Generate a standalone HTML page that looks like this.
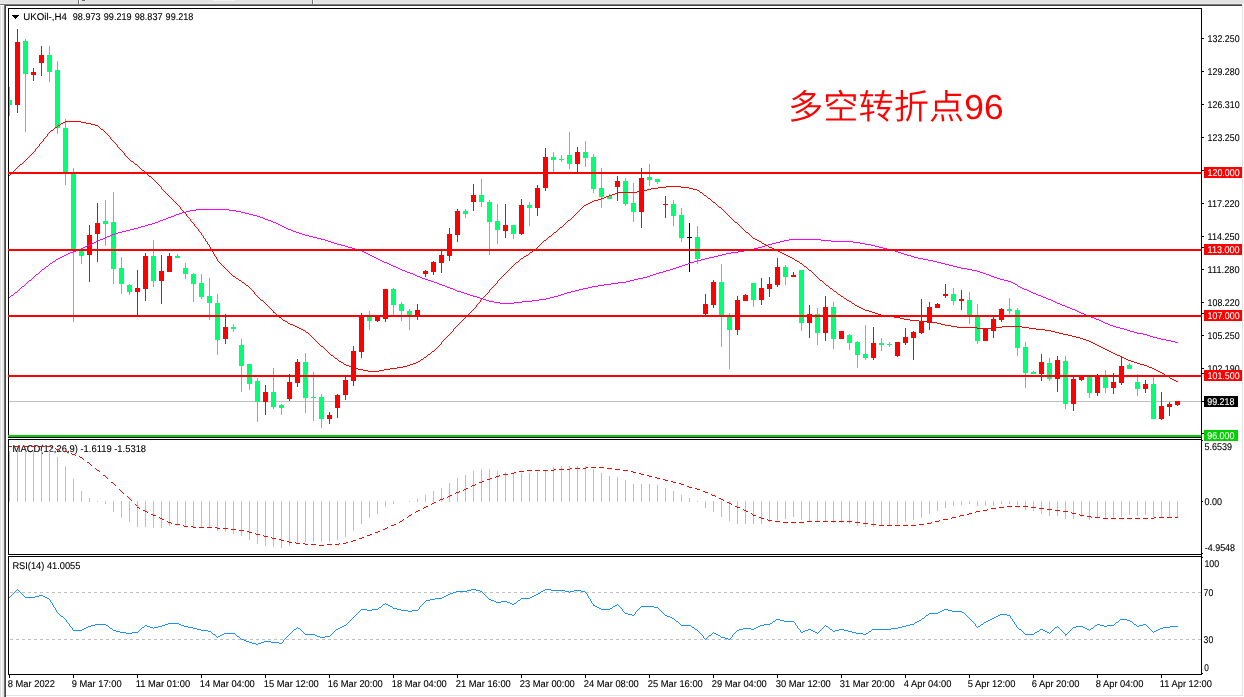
<!DOCTYPE html>
<html lang="zh"><head><meta charset="utf-8"><title>UKOil H4</title>
<style>html,body{margin:0;padding:0;background:#fff;}body{width:1244px;height:697px;overflow:hidden;position:relative;}svg{display:block;position:absolute;left:0;top:0;will-change:transform;}text{font-family:"Liberation Sans", "Noto Sans CJK SC", sans-serif;font-size:9.8px;text-rendering:geometricPrecision;fill:#000;white-space:pre;stroke:#000;stroke-width:0.1px;}.c{shape-rendering:crispEdges;}.note{font-size:34.6px;fill:#ff0000;font-weight:350;stroke:none;}</style></head><body>
<svg width="1244" height="697" viewBox="0 0 1244 697">
<g class="c">
<rect x="0" y="0" width="1244" height="697" fill="#fff"/>
<rect x="0" y="0" width="1244" height="4" fill="#e4e4e4"/>
<rect x="0" y="3" width="1244" height="1" fill="#ebebeb"/>
<rect x="0" y="4" width="1242" height="1" fill="#7a7a7a"/>
<rect x="4" y="5" width="1238" height="1" fill="#454545"/>
<rect x="0" y="6" width="1" height="691" fill="#dedede"/>
<rect x="2" y="6" width="2" height="691" fill="#e6e6e6"/>
<rect x="4" y="5" width="1" height="692" fill="#747474"/>
<rect x="5" y="5" width="1" height="692" fill="#454545"/>
<rect x="78" y="0" width="1" height="4" fill="#707070"/><rect x="79" y="0" width="1" height="4" fill="#ffffff"/>
<rect x="312" y="0" width="1" height="4" fill="#707070"/><rect x="313" y="0" width="1" height="4" fill="#ffffff"/>
<rect x="82" y="0" width="3" height="1" fill="#666"/>
<rect x="213" y="0" width="22" height="1" fill="#f2f2f2"/>
<rect x="1242" y="5" width="1" height="691" fill="#e2e2e2"/>
<rect x="6" y="695" width="1237" height="1" fill="#e2e2e2"/>
</g>
<defs><clipPath id="cm"><rect x="9" y="9" width="1192" height="428"/></clipPath><clipPath id="cd"><rect x="9" y="440" width="1192" height="114"/></clipPath><clipPath id="cr"><rect x="9" y="557" width="1192" height="117"/></clipPath></defs>
<g clip-path="url(#cm)">
<g class="c">
<rect x="9" y="401" width="1192" height="1" fill="#c0c0c0"/>
<rect x="9" y="87" width="1" height="29" fill="#00ff72"/>
<rect x="7" y="100" width="5" height="5" fill="#00ff72"/>
<rect x="17" y="29" width="1" height="84" fill="#ff0000"/>
<rect x="15" y="42" width="5" height="63" fill="#ff0000"/>
<rect x="25" y="39" width="1" height="93" fill="#00ff72"/>
<rect x="23" y="41" width="5" height="33" fill="#00ff72"/>
<rect x="33" y="68" width="1" height="13" fill="#ff0000"/>
<rect x="31" y="72" width="5" height="3" fill="#ff0000"/>
<rect x="41" y="46" width="1" height="30" fill="#ff0000"/>
<rect x="39" y="55" width="5" height="8" fill="#ff0000"/>
<rect x="49" y="46" width="1" height="36" fill="#00ff72"/>
<rect x="47" y="55" width="5" height="17" fill="#00ff72"/>
<rect x="57" y="61" width="1" height="73" fill="#00ff72"/>
<rect x="55" y="70" width="5" height="58" fill="#00ff72"/>
<rect x="65" y="119" width="1" height="66" fill="#00ff72"/>
<rect x="63" y="128" width="5" height="44" fill="#00ff72"/>
<rect x="73" y="168" width="1" height="154" fill="#00ff72"/>
<rect x="71" y="173" width="5" height="78" fill="#00ff72"/>
<rect x="81" y="250" width="1" height="14" fill="#00ff72"/>
<rect x="79" y="251" width="5" height="5" fill="#00ff72"/>
<rect x="89" y="225" width="1" height="57" fill="#ff0000"/>
<rect x="87" y="235" width="5" height="20" fill="#ff0000"/>
<rect x="97" y="203" width="1" height="59" fill="#ff0000"/>
<rect x="95" y="223" width="5" height="11" fill="#ff0000"/>
<rect x="105" y="200" width="1" height="46" fill="#00ff72"/>
<rect x="103" y="221" width="5" height="3" fill="#00ff72"/>
<rect x="113" y="192" width="1" height="92" fill="#00ff72"/>
<rect x="111" y="222" width="5" height="47" fill="#00ff72"/>
<rect x="121" y="257" width="1" height="37" fill="#00ff72"/>
<rect x="119" y="268" width="5" height="16" fill="#00ff72"/>
<rect x="129" y="284" width="1" height="11" fill="#00ff72"/>
<rect x="127" y="285" width="5" height="7" fill="#00ff72"/>
<rect x="137" y="270" width="1" height="46" fill="#ff0000"/>
<rect x="135" y="288" width="5" height="4" fill="#ff0000"/>
<rect x="145" y="253" width="1" height="48" fill="#ff0000"/>
<rect x="143" y="256" width="5" height="33" fill="#ff0000"/>
<rect x="153" y="240" width="1" height="47" fill="#00ff72"/>
<rect x="151" y="256" width="5" height="25" fill="#00ff72"/>
<rect x="161" y="255" width="1" height="49" fill="#ff0000"/>
<rect x="159" y="271" width="5" height="10" fill="#ff0000"/>
<rect x="169" y="253" width="1" height="19" fill="#ff0000"/>
<rect x="167" y="256" width="5" height="16" fill="#ff0000"/>
<rect x="177" y="254" width="1" height="4" fill="#00ff72"/>
<rect x="175" y="256" width="5" height="2" fill="#00ff72"/>
<rect x="185" y="263" width="1" height="16" fill="#00ff72"/>
<rect x="183" y="268" width="5" height="6" fill="#00ff72"/>
<rect x="193" y="273" width="1" height="29" fill="#00ff72"/>
<rect x="191" y="274" width="5" height="10" fill="#00ff72"/>
<rect x="201" y="274" width="1" height="25" fill="#00ff72"/>
<rect x="199" y="283" width="5" height="14" fill="#00ff72"/>
<rect x="209" y="278" width="1" height="42" fill="#00ff72"/>
<rect x="207" y="296" width="5" height="7" fill="#00ff72"/>
<rect x="217" y="294" width="1" height="61" fill="#00ff72"/>
<rect x="215" y="303" width="5" height="37" fill="#00ff72"/>
<rect x="225" y="314" width="1" height="30" fill="#ff0000"/>
<rect x="223" y="327" width="5" height="12" fill="#ff0000"/>
<rect x="233" y="324" width="1" height="8" fill="#00ff72"/>
<rect x="231" y="327" width="5" height="2" fill="#00ff72"/>
<rect x="241" y="339" width="1" height="53" fill="#00ff72"/>
<rect x="239" y="345" width="5" height="21" fill="#00ff72"/>
<rect x="249" y="364" width="1" height="26" fill="#00ff72"/>
<rect x="247" y="364" width="5" height="20" fill="#00ff72"/>
<rect x="257" y="378" width="1" height="44" fill="#00ff72"/>
<rect x="255" y="381" width="5" height="21" fill="#00ff72"/>
<rect x="265" y="385" width="1" height="30" fill="#ff0000"/>
<rect x="263" y="392" width="5" height="10" fill="#ff0000"/>
<rect x="273" y="368" width="1" height="41" fill="#00ff72"/>
<rect x="271" y="392" width="5" height="15" fill="#00ff72"/>
<rect x="281" y="404" width="1" height="11" fill="#00ff72"/>
<rect x="279" y="405" width="5" height="3" fill="#00ff72"/>
<rect x="289" y="374" width="1" height="27" fill="#ff0000"/>
<rect x="287" y="382" width="5" height="17" fill="#ff0000"/>
<rect x="297" y="359" width="1" height="28" fill="#ff0000"/>
<rect x="295" y="362" width="5" height="21" fill="#ff0000"/>
<rect x="305" y="353" width="1" height="60" fill="#00ff72"/>
<rect x="303" y="362" width="5" height="36" fill="#00ff72"/>
<rect x="313" y="372" width="1" height="49" fill="#00ff72"/>
<rect x="311" y="397" width="5" height="1" fill="#00ff72"/>
<rect x="321" y="394" width="1" height="34" fill="#00ff72"/>
<rect x="319" y="397" width="5" height="22" fill="#00ff72"/>
<rect x="329" y="412" width="1" height="12" fill="#ff0000"/>
<rect x="327" y="415" width="5" height="4" fill="#ff0000"/>
<rect x="337" y="394" width="1" height="24" fill="#ff0000"/>
<rect x="335" y="395" width="5" height="13" fill="#ff0000"/>
<rect x="345" y="376" width="1" height="24" fill="#ff0000"/>
<rect x="343" y="380" width="5" height="15" fill="#ff0000"/>
<rect x="353" y="346" width="1" height="40" fill="#ff0000"/>
<rect x="351" y="351" width="5" height="30" fill="#ff0000"/>
<rect x="361" y="313" width="1" height="45" fill="#ff0000"/>
<rect x="359" y="316" width="5" height="36" fill="#ff0000"/>
<rect x="369" y="311" width="1" height="19" fill="#00ff72"/>
<rect x="367" y="317" width="5" height="4" fill="#00ff72"/>
<rect x="377" y="316" width="1" height="6" fill="#ff0000"/>
<rect x="375" y="317" width="5" height="4" fill="#ff0000"/>
<rect x="385" y="289" width="1" height="33" fill="#ff0000"/>
<rect x="383" y="289" width="5" height="30" fill="#ff0000"/>
<rect x="393" y="288" width="1" height="27" fill="#00ff72"/>
<rect x="391" y="289" width="5" height="16" fill="#00ff72"/>
<rect x="401" y="302" width="1" height="19" fill="#00ff72"/>
<rect x="399" y="304" width="5" height="7" fill="#00ff72"/>
<rect x="409" y="309" width="1" height="21" fill="#00ff72"/>
<rect x="407" y="311" width="5" height="4" fill="#00ff72"/>
<rect x="417" y="304" width="1" height="16" fill="#ff0000"/>
<rect x="415" y="310" width="5" height="6" fill="#ff0000"/>
<rect x="425" y="270" width="1" height="7" fill="#ff0000"/>
<rect x="423" y="271" width="5" height="3" fill="#ff0000"/>
<rect x="433" y="261" width="1" height="14" fill="#ff0000"/>
<rect x="431" y="262" width="5" height="10" fill="#ff0000"/>
<rect x="441" y="250" width="1" height="23" fill="#ff0000"/>
<rect x="439" y="255" width="5" height="8" fill="#ff0000"/>
<rect x="449" y="228" width="1" height="33" fill="#ff0000"/>
<rect x="447" y="234" width="5" height="22" fill="#ff0000"/>
<rect x="457" y="209" width="1" height="33" fill="#ff0000"/>
<rect x="455" y="211" width="5" height="24" fill="#ff0000"/>
<rect x="465" y="209" width="1" height="9" fill="#00ff72"/>
<rect x="463" y="211" width="5" height="3" fill="#00ff72"/>
<rect x="473" y="184" width="1" height="27" fill="#ff0000"/>
<rect x="471" y="195" width="5" height="7" fill="#ff0000"/>
<rect x="481" y="179" width="1" height="28" fill="#00ff72"/>
<rect x="479" y="195" width="5" height="7" fill="#00ff72"/>
<rect x="489" y="200" width="1" height="55" fill="#00ff72"/>
<rect x="487" y="202" width="5" height="20" fill="#00ff72"/>
<rect x="497" y="204" width="1" height="40" fill="#00ff72"/>
<rect x="495" y="221" width="5" height="9" fill="#00ff72"/>
<rect x="505" y="204" width="1" height="34" fill="#ff0000"/>
<rect x="503" y="225" width="5" height="6" fill="#ff0000"/>
<rect x="513" y="225" width="1" height="14" fill="#00ff72"/>
<rect x="511" y="225" width="5" height="9" fill="#00ff72"/>
<rect x="521" y="199" width="1" height="36" fill="#ff0000"/>
<rect x="519" y="205" width="5" height="29" fill="#ff0000"/>
<rect x="529" y="202" width="1" height="24" fill="#00ff72"/>
<rect x="527" y="205" width="5" height="3" fill="#00ff72"/>
<rect x="537" y="185" width="1" height="31" fill="#ff0000"/>
<rect x="535" y="188" width="5" height="20" fill="#ff0000"/>
<rect x="545" y="148" width="1" height="43" fill="#ff0000"/>
<rect x="543" y="157" width="5" height="31" fill="#ff0000"/>
<rect x="553" y="152" width="1" height="20" fill="#00ff72"/>
<rect x="551" y="157" width="5" height="3" fill="#00ff72"/>
<rect x="561" y="155" width="1" height="7" fill="#00ff72"/>
<rect x="559" y="159" width="5" height="1" fill="#00ff72"/>
<rect x="569" y="132" width="1" height="37" fill="#00ff72"/>
<rect x="567" y="155" width="5" height="9" fill="#00ff72"/>
<rect x="577" y="147" width="1" height="25" fill="#ff0000"/>
<rect x="575" y="152" width="5" height="12" fill="#ff0000"/>
<rect x="585" y="141" width="1" height="26" fill="#00ff72"/>
<rect x="583" y="152" width="5" height="6" fill="#00ff72"/>
<rect x="593" y="154" width="1" height="39" fill="#00ff72"/>
<rect x="591" y="157" width="5" height="32" fill="#00ff72"/>
<rect x="601" y="168" width="1" height="40" fill="#00ff72"/>
<rect x="599" y="188" width="5" height="9" fill="#00ff72"/>
<rect x="609" y="194" width="1" height="5" fill="#00ff72"/>
<rect x="607" y="196" width="5" height="3" fill="#00ff72"/>
<rect x="617" y="176" width="1" height="25" fill="#ff0000"/>
<rect x="615" y="181" width="5" height="6" fill="#ff0000"/>
<rect x="625" y="178" width="1" height="28" fill="#00ff72"/>
<rect x="623" y="181" width="5" height="23" fill="#00ff72"/>
<rect x="633" y="183" width="1" height="39" fill="#00ff72"/>
<rect x="631" y="203" width="5" height="9" fill="#00ff72"/>
<rect x="641" y="168" width="1" height="60" fill="#ff0000"/>
<rect x="639" y="178" width="5" height="34" fill="#ff0000"/>
<rect x="649" y="164" width="1" height="22" fill="#00ff72"/>
<rect x="647" y="177" width="5" height="3" fill="#00ff72"/>
<rect x="657" y="179" width="1" height="5" fill="#00ff72"/>
<rect x="655" y="179" width="5" height="3" fill="#00ff72"/>
<rect x="665" y="196" width="1" height="22" fill="#ff0000"/>
<rect x="663" y="204" width="5" height="1" fill="#ff0000"/>
<rect x="673" y="200" width="1" height="26" fill="#00ff72"/>
<rect x="671" y="204" width="5" height="12" fill="#00ff72"/>
<rect x="681" y="208" width="1" height="34" fill="#00ff72"/>
<rect x="679" y="215" width="5" height="23" fill="#00ff72"/>
<rect x="689" y="223" width="1" height="49" fill="#000000"/>
<rect x="687" y="237" width="5" height="1" fill="#000000"/>
<rect x="697" y="226" width="1" height="38" fill="#00ff72"/>
<rect x="695" y="237" width="5" height="22" fill="#00ff72"/>
<rect x="705" y="294" width="1" height="21" fill="#ff0000"/>
<rect x="703" y="304" width="5" height="10" fill="#ff0000"/>
<rect x="713" y="280" width="1" height="28" fill="#ff0000"/>
<rect x="711" y="282" width="5" height="23" fill="#ff0000"/>
<rect x="721" y="264" width="1" height="83" fill="#00ff72"/>
<rect x="719" y="282" width="5" height="33" fill="#00ff72"/>
<rect x="729" y="313" width="1" height="56" fill="#00ff72"/>
<rect x="727" y="317" width="5" height="13" fill="#00ff72"/>
<rect x="737" y="296" width="1" height="39" fill="#ff0000"/>
<rect x="735" y="300" width="5" height="30" fill="#ff0000"/>
<rect x="745" y="294" width="1" height="7" fill="#ff0000"/>
<rect x="743" y="295" width="5" height="6" fill="#ff0000"/>
<rect x="753" y="283" width="1" height="24" fill="#00ff72"/>
<rect x="751" y="283" width="5" height="17" fill="#00ff72"/>
<rect x="761" y="278" width="1" height="27" fill="#ff0000"/>
<rect x="759" y="288" width="5" height="12" fill="#ff0000"/>
<rect x="769" y="277" width="1" height="20" fill="#ff0000"/>
<rect x="767" y="284" width="5" height="5" fill="#ff0000"/>
<rect x="777" y="258" width="1" height="29" fill="#ff0000"/>
<rect x="775" y="267" width="5" height="18" fill="#ff0000"/>
<rect x="785" y="265" width="1" height="20" fill="#00ff72"/>
<rect x="783" y="267" width="5" height="10" fill="#00ff72"/>
<rect x="793" y="272" width="1" height="5" fill="#ff0000"/>
<rect x="791" y="275" width="5" height="2" fill="#ff0000"/>
<rect x="801" y="270" width="1" height="61" fill="#00ff72"/>
<rect x="799" y="270" width="5" height="53" fill="#00ff72"/>
<rect x="809" y="305" width="1" height="33" fill="#ff0000"/>
<rect x="807" y="314" width="5" height="9" fill="#ff0000"/>
<rect x="817" y="308" width="1" height="37" fill="#00ff72"/>
<rect x="815" y="314" width="5" height="19" fill="#00ff72"/>
<rect x="825" y="296" width="1" height="45" fill="#ff0000"/>
<rect x="823" y="307" width="5" height="26" fill="#ff0000"/>
<rect x="833" y="302" width="1" height="47" fill="#00ff72"/>
<rect x="831" y="307" width="5" height="32" fill="#00ff72"/>
<rect x="841" y="331" width="1" height="8" fill="#ff0000"/>
<rect x="839" y="331" width="5" height="8" fill="#ff0000"/>
<rect x="849" y="334" width="1" height="16" fill="#00ff72"/>
<rect x="847" y="335" width="5" height="8" fill="#00ff72"/>
<rect x="857" y="341" width="1" height="27" fill="#00ff72"/>
<rect x="855" y="342" width="5" height="13" fill="#00ff72"/>
<rect x="865" y="325" width="1" height="35" fill="#00ff72"/>
<rect x="863" y="354" width="5" height="4" fill="#00ff72"/>
<rect x="873" y="327" width="1" height="33" fill="#ff0000"/>
<rect x="871" y="343" width="5" height="15" fill="#ff0000"/>
<rect x="881" y="338" width="1" height="13" fill="#00ff72"/>
<rect x="879" y="343" width="5" height="2" fill="#00ff72"/>
<rect x="889" y="342" width="1" height="5" fill="#00ff72"/>
<rect x="887" y="344" width="5" height="1" fill="#00ff72"/>
<rect x="897" y="342" width="1" height="15" fill="#ff0000"/>
<rect x="895" y="342" width="5" height="14" fill="#ff0000"/>
<rect x="905" y="328" width="1" height="17" fill="#ff0000"/>
<rect x="903" y="337" width="5" height="6" fill="#ff0000"/>
<rect x="913" y="331" width="1" height="29" fill="#ff0000"/>
<rect x="911" y="332" width="5" height="6" fill="#ff0000"/>
<rect x="921" y="299" width="1" height="35" fill="#ff0000"/>
<rect x="919" y="322" width="5" height="11" fill="#ff0000"/>
<rect x="929" y="302" width="1" height="28" fill="#ff0000"/>
<rect x="927" y="307" width="5" height="15" fill="#ff0000"/>
<rect x="937" y="303" width="1" height="5" fill="#ff0000"/>
<rect x="935" y="304" width="5" height="4" fill="#ff0000"/>
<rect x="945" y="284" width="1" height="14" fill="#ff0000"/>
<rect x="943" y="294" width="5" height="2" fill="#ff0000"/>
<rect x="953" y="288" width="1" height="17" fill="#00ff72"/>
<rect x="951" y="294" width="5" height="7" fill="#00ff72"/>
<rect x="961" y="290" width="1" height="20" fill="#ff0000"/>
<rect x="959" y="299" width="5" height="2" fill="#ff0000"/>
<rect x="969" y="292" width="1" height="32" fill="#00ff72"/>
<rect x="967" y="300" width="5" height="15" fill="#00ff72"/>
<rect x="977" y="304" width="1" height="40" fill="#00ff72"/>
<rect x="975" y="317" width="5" height="24" fill="#00ff72"/>
<rect x="985" y="329" width="1" height="12" fill="#ff0000"/>
<rect x="983" y="329" width="5" height="12" fill="#ff0000"/>
<rect x="993" y="316" width="1" height="22" fill="#ff0000"/>
<rect x="991" y="319" width="5" height="12" fill="#ff0000"/>
<rect x="1001" y="308" width="1" height="14" fill="#ff0000"/>
<rect x="999" y="309" width="5" height="11" fill="#ff0000"/>
<rect x="1009" y="298" width="1" height="16" fill="#00ff72"/>
<rect x="1007" y="309" width="5" height="2" fill="#00ff72"/>
<rect x="1017" y="308" width="1" height="48" fill="#00ff72"/>
<rect x="1015" y="310" width="5" height="38" fill="#00ff72"/>
<rect x="1025" y="342" width="1" height="46" fill="#00ff72"/>
<rect x="1023" y="347" width="5" height="26" fill="#00ff72"/>
<rect x="1033" y="371" width="1" height="3" fill="#00ff72"/>
<rect x="1031" y="372" width="5" height="2" fill="#00ff72"/>
<rect x="1041" y="354" width="1" height="27" fill="#ff0000"/>
<rect x="1039" y="362" width="5" height="12" fill="#ff0000"/>
<rect x="1049" y="358" width="1" height="23" fill="#00ff72"/>
<rect x="1047" y="363" width="5" height="16" fill="#00ff72"/>
<rect x="1057" y="356" width="1" height="36" fill="#ff0000"/>
<rect x="1055" y="360" width="5" height="19" fill="#ff0000"/>
<rect x="1065" y="356" width="1" height="53" fill="#00ff72"/>
<rect x="1063" y="361" width="5" height="43" fill="#00ff72"/>
<rect x="1073" y="377" width="1" height="34" fill="#ff0000"/>
<rect x="1071" y="379" width="5" height="25" fill="#ff0000"/>
<rect x="1081" y="376" width="1" height="5" fill="#ff0000"/>
<rect x="1079" y="377" width="5" height="3" fill="#ff0000"/>
<rect x="1089" y="377" width="1" height="21" fill="#00ff72"/>
<rect x="1087" y="377" width="5" height="16" fill="#00ff72"/>
<rect x="1097" y="374" width="1" height="22" fill="#ff0000"/>
<rect x="1095" y="376" width="5" height="17" fill="#ff0000"/>
<rect x="1105" y="370" width="1" height="23" fill="#00ff72"/>
<rect x="1103" y="377" width="5" height="11" fill="#00ff72"/>
<rect x="1113" y="373" width="1" height="21" fill="#ff0000"/>
<rect x="1111" y="382" width="5" height="6" fill="#ff0000"/>
<rect x="1121" y="356" width="1" height="29" fill="#ff0000"/>
<rect x="1119" y="366" width="5" height="17" fill="#ff0000"/>
<rect x="1129" y="363" width="1" height="6" fill="#00ff72"/>
<rect x="1127" y="365" width="5" height="4" fill="#00ff72"/>
<rect x="1137" y="374" width="1" height="22" fill="#00ff72"/>
<rect x="1135" y="382" width="5" height="7" fill="#00ff72"/>
<rect x="1145" y="380" width="1" height="13" fill="#ff0000"/>
<rect x="1143" y="384" width="5" height="5" fill="#ff0000"/>
<rect x="1153" y="377" width="1" height="42" fill="#00ff72"/>
<rect x="1151" y="384" width="5" height="35" fill="#00ff72"/>
<rect x="1161" y="392" width="1" height="28" fill="#ff0000"/>
<rect x="1159" y="406" width="5" height="13" fill="#ff0000"/>
<rect x="1169" y="402" width="1" height="14" fill="#ff0000"/>
<rect x="1167" y="404" width="5" height="3" fill="#ff0000"/>
<rect x="1177" y="401" width="1" height="5" fill="#ff0000"/>
<rect x="1175" y="401" width="5" height="4" fill="#ff0000"/>
</g>
<path class="c" d="M486 300.5h3M532 300.5h7M1051 300.5h2M398 268.5h2M673 268.5h3M961 268.5h6M464 293.5h3M564 293.5h3M1033 293.5h3M96 241.5h2M328 241.5h3M780 241.5h4M831 241.5h22M453 289.5h2M579 289.5h4M1024 289.5h3M145 225.5h3M280 225.5h2M196 209.5h33M477 297.5h3M550 297.5h4M1043 297.5h3M115 233.5h3M299 233.5h3M158 221.5h2M271 221.5h2M425 279.5h3M634 279.5h4M1000 279.5h4M467 294.5h3M561 294.5h3M1036 294.5h2M100 239.5h3M321 239.5h4M789 239.5h32M98 240.5h2M325 240.5h3M784 240.5h5M821 240.5h10M190 210.5h6M229 210.5h7M94 242.5h2M331 242.5h3M776 242.5h4M853 242.5h7M85 246.5h2M345 246.5h3M762 246.5h3M875 246.5h4M384 262.5h3M690 262.5h4M937 262.5h4M70 252.5h3M364 252.5h2M731 252.5h7M898 252.5h3M168 217.5h3M260 217.5h3M22 286.5h2M445 286.5h2M592 286.5h6M1018 286.5h2M437 283.5h2M611 283.5h7M1013 283.5h2M73 251.5h3M362 251.5h2M738 251.5h6M895 251.5h3M417 276.5h3M647 276.5h3M991 276.5h3M122 231.5h4M293 231.5h3M182 212.5h4M241 212.5h4M480 298.5h3M546 298.5h4M1046 298.5h2M494 302.5h6M514 302.5h8M1055 302.5h2M68 253.5h2M366 253.5h2M726 253.5h5M901 253.5h3M56 259.5h2M378 259.5h2M701 259.5h4M923 259.5h5M489 301.5h5M522 301.5h10M1053 301.5h2M105 237.5h2M313 237.5h4M11 295.5h2M470 295.5h3M558 295.5h3M1038 295.5h3M29 280.5h2M428 280.5h3M630 280.5h4M1004 280.5h4M36 274.5h2M413 274.5h2M653 274.5h3M986 274.5h3M447 287.5h3M588 287.5h4M1020 287.5h2M1120 328.5h4M179 213.5h3M245 213.5h4M64 255.5h2M370 255.5h2M718 255.5h4M907 255.5h4M483 299.5h3M539 299.5h7M1048 299.5h3M76 250.5h2M359 250.5h3M744 250.5h6M891 250.5h4M1070 308.5h2M15 292.5h2M461 292.5h3M567 292.5h4M1031 292.5h2M1137 333.5h6M391 265.5h2M682 265.5h3M949 265.5h4M431 281.5h3M626 281.5h4M1008 281.5h3M1161 339.5h5M402 270.5h3M666 270.5h4M972 270.5h5M60 257.5h2M374 257.5h2M709 257.5h5M914 257.5h4M130 229.5h4M288 229.5h3M420 277.5h2M643 277.5h4M994 277.5h3M1143 334.5h4M92 243.5h2M334 243.5h3M772 243.5h4M860 243.5h5M81 248.5h2M352 248.5h3M754 248.5h4M883 248.5h4M455 290.5h2M575 290.5h4M1027 290.5h2M155 222.5h3M273 222.5h3M1065 306.5h2M410 273.5h3M656 273.5h3M983 273.5h3M473 296.5h4M554 296.5h4M1041 296.5h2M1116 327.5h4M62 256.5h2M372 256.5h2M714 256.5h4M911 256.5h3M83 247.5h2M348 247.5h4M758 247.5h4M879 247.5h4M500 303.5h14M1057 303.5h3M1157 338.5h4M103 238.5h2M317 238.5h4M90 244.5h2M337 244.5h4M768 244.5h4M865 244.5h6M389 264.5h2M685 264.5h3M945 264.5h4M163 219.5h3M265 219.5h3M1084 314.5h2M1147 335.5h3M66 254.5h2M368 254.5h2M722 254.5h4M904 254.5h3M1077 311.5h2M1166 340.5h5M434 282.5h3M618 282.5h8M1011 282.5h2M46 266.5h2M393 266.5h3M679 266.5h3M953 266.5h4M1127 330.5h3M422 278.5h3M638 278.5h5M997 278.5h3M126 230.5h4M291 230.5h2M118 232.5h4M296 232.5h3M396 267.5h2M676 267.5h3M957 267.5h4M1079 312.5h2M42 269.5h2M400 269.5h2M670 269.5h3M967 269.5h5M1130 331.5h4M174 215.5h2M253 215.5h4M1171 341.5h4M415 275.5h2M650 275.5h3M989 275.5h2M1081 313.5h3M1072 309.5h3M380 260.5h2M697 260.5h4M928 260.5h5M439 284.5h3M604 284.5h7M1015 284.5h2M1124 329.5h3M110 235.5h2M305 235.5h4M53 261.5h2M382 261.5h2M694 261.5h3M933 261.5h4M78 249.5h3M355 249.5h4M750 249.5h4M887 249.5h4M186 211.5h4M236 211.5h5M405 271.5h2M663 271.5h3M977 271.5h3M1067 307.5h3M1099 320.5h2M141 226.5h4M282 226.5h2M1153 337.5h4M176 214.5h3M249 214.5h4M1091 317.5h3M457 291.5h4M571 291.5h4M1029 291.5h2M134 228.5h4M286 228.5h2M112 234.5h3M302 234.5h3M450 288.5h3M583 288.5h5M1022 288.5h2M1094 318.5h2M58 258.5h2M376 258.5h2M705 258.5h4M918 258.5h5M87 245.5h3M341 245.5h4M765 245.5h3M871 245.5h4M1110 325.5h3M148 224.5h4M278 224.5h2M1086 315.5h3M442 285.5h3M598 285.5h6M1103 322.5h2M1150 336.5h3M1113 326.5h3M1105 323.5h3M1096 319.5h3M171 216.5h3M257 216.5h3M1101 321.5h2M1134 332.5h3M1175 342.5h3M107 236.5h3M309 236.5h4M407 272.5h3M659 272.5h4M980 272.5h3M138 227.5h3M284 227.5h2M50 263.5h2M387 263.5h2M688 263.5h2M941 263.5h4M160 220.5h3M268 220.5h3M166 218.5h2M263 218.5h2M1062 305.5h3M152 223.5h3M276 223.5h2M1060 304.5h2M1075 310.5h2M1089 316.5h2M1108 324.5h2M44.5 268v1M14.5 293v1M19.5 289v1M9.5 297v1M31.5 279v1M13.5 294v1M52.5 262v1M26.5 283v1M34.5 276v1M21.5 287v1M48.5 265v1M28.5 281v1M41.5 270v1M33.5 277v1M18.5 290v1M38.5 273v1M10.5 296v1M49.5 264v1M27.5 282v1M32.5 278v1M45.5 267v1M35.5 275v1M55.5 260v1M25.5 284v1M40.5 271v1M17.5 291v1M20.5 288v1M24.5 285v1M1017.5 285v1M39.5 272v1" fill="none" stroke="#ff00ff" stroke-width="1"/>
<path class="c" d="M306 332.5h2M1055 332.5h4M852 303.5h2M339 361.5h2M418 361.5h2M1131 361.5h3M299 328.5h2M977 328.5h18M1029 328.5h7M236 278.5h2M335 358.5h2M1124 358.5h2M358 369.5h5M384 369.5h6M1154 369.5h2M288 323.5h2M937 323.5h4M297 327.5h2M957 327.5h20M995 327.5h7M1022 327.5h7M55 127.5h2M279 317.5h2M894 317.5h6M875 313.5h3M65 121.5h16M834 291.5h2M762 243.5h2M1174 380.5h2M658 187.5h8M681 187.5h8M1167 376.5h2M363 370.5h5M379 370.5h5M1156 370.5h2M1063 334.5h5M290 324.5h3M941 324.5h4M295 326.5h2M951 326.5h6M1002 326.5h20M755 239.5h2M590 202.5h2M713 202.5h2M530 252.5h2M780 252.5h2M233 276.5h2M516 262.5h2M283 320.5h2M910 320.5h9M719 207.5h2M1103 348.5h2M759 241.5h2M863 309.5h2M368 371.5h11M1158 371.5h2M1162 373.5h2M301 329.5h2M1036 329.5h9M784 254.5h2M293 325.5h2M945 325.5h6M285 321.5h2M919 321.5h8M58 125.5h2M95 125.5h3M246 285.5h2M826 285.5h2M1072 336.5h4M560 227.5h2M1170 378.5h2M618 192.5h19M700 192.5h2M778 251.5h2M594 200.5h4M927 322.5h10M413 363.5h3M1137 363.5h3M1107 350.5h2M666 186.5h15M804 266.5h2M601 198.5h3M708 198.5h2M331 355.5h2M1117 355.5h3M1165 375.5h2M354 368.5h4M390 368.5h7M1152 368.5h2M344 364.5h2M410 364.5h3M1140 364.5h4M606 196.5h3M1068 335.5h4M588 203.5h2M881 315.5h7M790 257.5h2M346 365.5h3M407 365.5h3M1144 365.5h3M303 330.5h2M1045 330.5h6M766 245.5h2M586 204.5h2M800 263.5h2M1076 337.5h4M865 310.5h4M349 366.5h2M403 366.5h4M1147 366.5h2M1086 340.5h3M838 294.5h2M612 194.5h3M524 256.5h2M788 256.5h2M261 300.5h2M847 300.5h2M1080 338.5h3M772 248.5h2M878 314.5h3M1093 343.5h2M1051 331.5h4M809 270.5h2M1095 344.5h2M841 296.5h2M1097 345.5h2M63 122.5h2M81 122.5h5M643 190.5h4M697 190.5h2M598 199.5h3M242 282.5h2M51 130.5h2M351 367.5h3M397 367.5h6M1149 367.5h3M549 236.5h2M637 191.5h6M855 305.5h2M20 164.5h2M135 164.5h2M888 316.5h6M428 354.5h2M1115 354.5h2M795 260.5h2M149 176.5h2M609 195.5h3M704 195.5h2M859 307.5h2M797 261.5h2M651 188.5h7M689 188.5h4M900 318.5h4M1120 356.5h2M1091 342.5h2M61 123.5h2M86 123.5h5M1113 353.5h2M782 253.5h2M534 249.5h2M774 249.5h2M1083 339.5h3M101 129.5h2M735 222.5h2M424 357.5h2M1122 357.5h2M341 362.5h2M416 362.5h2M1134 362.5h3M91 124.5h4M604 197.5h2M432 351.5h2M1109 351.5h2M1101 347.5h2M421 359.5h2M1126 359.5h2M769 247.5h3M904 319.5h6M554 232.5h2M746 232.5h2M131 161.5h2M830 288.5h2M568 220.5h2M526 255.5h2M786 255.5h2M1105 349.5h2M1128 360.5h3M584 205.5h2M592 201.5h2M869 311.5h3M615 193.5h3M1059 333.5h4M776 250.5h2M647 189.5h4M693 189.5h4M273 312.5h2M872 312.5h3M1172 379.5h2M544 240.5h2M757 240.5h2M1176 381.5h2M1089 341.5h2M753 238.5h2M1111 352.5h2M844 298.5h2M239 280.5h2M820 280.5h2M1160 372.5h2M321 346.5h2M1099 346.5h2M857 306.5h2M764 244.5h2M861 308.5h2M521 258.5h2M792 258.5h2M142 170.5h2M849 301.5h2M451.5 332v1M155.5 181v1M265.5 303v1M478.5 303v1M454.5 328v1M500.5 278v1M818.5 278v1M195.5 226v1M562.5 226v1M740.5 226v1M25.5 160v1M130.5 160v1M423.5 358v1M459.5 323v1M455.5 327v1M201.5 233v2M552.5 234v1M749.5 234v1M99.5 127v1M465.5 317v1M275.5 313v1M469.5 313v1M209.5 245v2M538.5 246v1M768.5 246v1M253.5 291v1M489.5 290v2M22.5 163v1M134.5 163v1M207.5 242v2M541.5 243v1M161.5 187v2M309.5 334v1M449.5 334v1M458.5 324v1M260.5 299v1M481.5 299v1M846.5 299v1M456.5 326v1M205.5 239v2M546.5 239v1M175.5 202v1M213.5 252v2M502.5 276v1M816.5 276v1M219.5 262v1M799.5 262v1M462.5 320v1M180.5 207v2M582.5 207v1M324.5 348v1M436.5 348v1M206.5 241v1M543.5 241v1M271.5 309v1M473.5 309v1M453.5 329v2M214.5 254v2M528.5 254v1M457.5 325v1M461.5 321v1M494.5 285v1M217.5 259v2M520.5 259v1M794.5 259v1M311.5 336v1M447.5 336v1M196.5 227v1M741.5 227v1M188.5 217v1M572.5 217v1M730.5 217v1M165.5 192v1M212.5 251v1M532.5 251v1M173.5 200v1M711.5 200v1M287.5 322v1M460.5 322v1M343.5 363v1M27.5 158v1M128.5 158v1M34.5 151v1M122.5 151v1M37.5 147v1M118.5 147v1M17.5 167v1M139.5 167v1M326.5 350v1M434.5 350v1M160.5 186v1M197.5 228v1M559.5 228v1M742.5 228v1M223.5 266v1M512.5 266v1M171.5 198v1M26.5 159v1M129.5 159v1M427.5 355v1M231.5 274v1M504.5 274v1M814.5 274v1M190.5 219v2M570.5 219v1M732.5 219v1M194.5 224v2M564.5 224v1M738.5 224v1M169.5 196v1M706.5 196v1M310.5 335v1M448.5 335v1M563.5 225v1M739.5 225v1M176.5 203v1M715.5 203v1M277.5 315v1M467.5 315v1M216.5 257v2M523.5 257v1M198.5 229v2M557.5 230v1M744.5 230v1M45.5 137v1M110.5 137v2M35.5 149v2M120.5 149v1M182.5 210v1M579.5 210v1M723.5 210v1M539.5 245v1M252.5 290v1M833.5 290v1M177.5 204v1M716.5 204v1M220.5 263v1M515.5 263v1M312.5 337v1M446.5 337v1M121.5 150v1M272.5 310v1M472.5 310v1M315.5 340v1M443.5 340v1M255.5 294v1M486.5 294v1M167.5 194v1M703.5 194v1M215.5 256v1M40.5 143v1M115.5 143v1M480.5 300v2M313.5 338v1M445.5 338v1M210.5 247v2M536.5 248v1M276.5 314v1M468.5 314v1M318.5 343v1M441.5 342v2M305.5 331v1M452.5 331v1M187.5 216v1M573.5 216v1M729.5 216v1M10.5 174v1M147.5 174v1M227.5 270v1M508.5 270v1M319.5 344v1M440.5 344v1M224.5 267v1M511.5 267v1M806.5 267v1M184.5 212v1M577.5 212v1M725.5 212v1M257.5 296v1M484.5 296v1M241.5 281v1M497.5 281v2M822.5 281v1M320.5 345v1M439.5 345v1M42.5 141v1M113.5 141v1M48.5 133v1M106.5 133v1M235.5 277v1M501.5 277v1M817.5 277v1M163.5 190v1M172.5 199v1M710.5 199v1M823.5 282v1M29.5 156v1M126.5 156v1M103.5 130v1M203.5 236v2M751.5 236v1M164.5 191v1M699.5 191v1M267.5 305v1M476.5 305v2M244.5 283v1M496.5 283v1M824.5 283v1M238.5 279v1M499.5 279v1M819.5 279v1M229.5 272v1M506.5 272v1M812.5 272v1M18.5 166v1M138.5 166v1M186.5 214v2M574.5 215v1M728.5 215v1M13.5 171v1M144.5 171v1M278.5 316v1M466.5 316v1M330.5 354v1M519.5 260v1M168.5 195v1M269.5 307v1M475.5 307v1M43.5 139v2M112.5 140v1M218.5 261v1M518.5 261v1M179.5 206v1M583.5 206v1M718.5 206v1M281.5 318v1M464.5 318v1M333.5 356v1M426.5 356v1M156.5 182v1M317.5 342v1M254.5 292v2M488.5 292v1M836.5 292v1M228.5 271v1M507.5 271v1M811.5 271v1M157.5 183v1M329.5 353v1M430.5 353v1M529.5 253v1M211.5 249v2M314.5 339v1M444.5 339v1M53.5 129v1M192.5 222v1M566.5 222v1M334.5 357v1M553.5 233v1M748.5 233v1M50.5 131v1M104.5 131v1M60.5 124v1M193.5 223v1M565.5 223v1M737.5 223v1M170.5 197v1M707.5 197v1M327.5 351v1M49.5 132v1M105.5 132v1M323.5 347v1M437.5 347v1M337.5 359v1M537.5 247v1M226.5 269v1M509.5 269v1M808.5 269v1M282.5 319v1M463.5 319v1M575.5 214v1M727.5 214v1M200.5 232v1M24.5 161v1M47.5 134v2M108.5 135v1M250.5 288v1M491.5 288v1M733.5 220v1M225.5 268v1M510.5 268v1M807.5 268v1M325.5 349v1M435.5 349v1M338.5 360v1M420.5 360v1M178.5 205v1M717.5 205v1M39.5 144v2M117.5 145v2M174.5 201v1M712.5 201v1M12.5 172v1M145.5 172v1M273.5 311v1M471.5 311v1M166.5 193v1M702.5 193v1M308.5 333v1M450.5 333v1M36.5 148v1M119.5 148v1M533.5 250v1M258.5 297v1M483.5 297v1M843.5 297v1M222.5 265v1M513.5 265v1M803.5 265v1M232.5 275v1M503.5 275v1M815.5 275v1M162.5 189v1M33.5 152v1M123.5 152v1M470.5 312v1M249.5 287v1M492.5 287v1M829.5 287v1M264.5 302v1M479.5 302v1M851.5 302v1M31.5 154v1M124.5 153v2M558.5 229v1M743.5 229v1M266.5 304v1M477.5 304v1M854.5 304v1M248.5 286v1M493.5 286v1M828.5 286v1M189.5 218v1M571.5 218v1M731.5 218v1M54.5 128v1M100.5 128v1M107.5 134v1M15.5 169v1M141.5 169v1M581.5 208v1M721.5 208v1M116.5 144v1M245.5 284v1M495.5 284v1M825.5 284v1M316.5 341v1M442.5 341v1M16.5 168v1M140.5 168v1M151.5 177v1M204.5 238v1M547.5 238v1M152.5 178v1M487.5 293v1M837.5 293v1M41.5 142v1M114.5 142v1M328.5 352v1M431.5 352v1M199.5 231v1M556.5 231v1M745.5 231v1M259.5 298v1M482.5 298v1M498.5 280v1M221.5 264v1M514.5 264v1M802.5 264v1M548.5 237v1M752.5 237v1M181.5 209v1M580.5 209v1M722.5 209v1M202.5 235v1M551.5 235v1M750.5 235v1M19.5 165v1M137.5 165v1M185.5 213v1M576.5 213v1M726.5 213v1M1164.5 374v1M251.5 289v1M490.5 289v1M832.5 289v1M438.5 346v1M158.5 184v1M230.5 273v1M505.5 273v1M813.5 273v1M268.5 306v1M30.5 155v1M125.5 155v1M208.5 244v1M540.5 244v1M270.5 308v1M474.5 308v1M191.5 221v1M567.5 221v1M734.5 221v1M14.5 170v1M38.5 146v1M256.5 295v1M485.5 295v1M840.5 295v1M11.5 173v1M146.5 173v1M263.5 301v1M44.5 138v1M183.5 211v1M578.5 211v1M724.5 211v1M32.5 153v1M28.5 157v1M127.5 157v1M153.5 179v1M1169.5 377v1M9.5 175v1M148.5 175v1M46.5 136v1M109.5 136v1M57.5 126v1M98.5 126v1M542.5 242v1M761.5 242v1M23.5 162v1M133.5 162v1M159.5 185v1M111.5 139v1M154.5 180v1" fill="none" stroke="#ff0000" stroke-width="1"/>
</g>
<g class="c">
<rect x="8" y="8" width="1" height="430" fill="#000"/>
<rect x="8" y="172" width="1193" height="2" fill="#ff0000"/>
<rect x="8" y="249" width="1193" height="2" fill="#ff0000"/>
<rect x="8" y="315" width="1193" height="2" fill="#ff0000"/>
<rect x="8" y="375" width="1193" height="2" fill="#ff0000"/>
<rect x="8" y="435" width="1193" height="2" fill="#00d000"/>
</g>
<text class="note" x="788" y="119" textLength="215.5" lengthAdjust="spacingAndGlyphs">多空转折点96</text>
<text x="12.6" y="452" textLength="133.5" lengthAdjust="spacingAndGlyphs">MACD(12,26,9) -1.6119 -1.5318</text>
<g clip-path="url(#cd)">
<g class="c">
<rect x="9" y="451" width="1" height="51" fill="#c0c0c0"/>
<rect x="17" y="451" width="1" height="51" fill="#c0c0c0"/>
<rect x="25" y="451" width="1" height="51" fill="#c0c0c0"/>
<rect x="33" y="451" width="1" height="51" fill="#c0c0c0"/>
<rect x="41" y="451" width="1" height="51" fill="#c0c0c0"/>
<rect x="49" y="451" width="1" height="51" fill="#c0c0c0"/>
<rect x="57" y="457" width="1" height="45" fill="#c0c0c0"/>
<rect x="65" y="466" width="1" height="36" fill="#c0c0c0"/>
<rect x="73" y="479" width="1" height="23" fill="#c0c0c0"/>
<rect x="81" y="491" width="1" height="11" fill="#c0c0c0"/>
<rect x="89" y="498" width="1" height="4" fill="#c0c0c0"/>
<rect x="97" y="501" width="1" height="1" fill="#c0c0c0"/>
<rect x="105" y="501" width="1" height="3" fill="#c0c0c0"/>
<rect x="113" y="501" width="1" height="11" fill="#c0c0c0"/>
<rect x="121" y="501" width="1" height="17" fill="#c0c0c0"/>
<rect x="129" y="501" width="1" height="21" fill="#c0c0c0"/>
<rect x="137" y="501" width="1" height="26" fill="#c0c0c0"/>
<rect x="145" y="501" width="1" height="26" fill="#c0c0c0"/>
<rect x="153" y="501" width="1" height="27" fill="#c0c0c0"/>
<rect x="161" y="501" width="1" height="27" fill="#c0c0c0"/>
<rect x="169" y="501" width="1" height="25" fill="#c0c0c0"/>
<rect x="177" y="501" width="1" height="24" fill="#c0c0c0"/>
<rect x="185" y="501" width="1" height="25" fill="#c0c0c0"/>
<rect x="193" y="501" width="1" height="26" fill="#c0c0c0"/>
<rect x="201" y="501" width="1" height="27" fill="#c0c0c0"/>
<rect x="209" y="501" width="1" height="27" fill="#c0c0c0"/>
<rect x="217" y="501" width="1" height="30" fill="#c0c0c0"/>
<rect x="225" y="501" width="1" height="31" fill="#c0c0c0"/>
<rect x="233" y="501" width="1" height="33" fill="#c0c0c0"/>
<rect x="241" y="501" width="1" height="35" fill="#c0c0c0"/>
<rect x="249" y="501" width="1" height="39" fill="#c0c0c0"/>
<rect x="257" y="501" width="1" height="43" fill="#c0c0c0"/>
<rect x="265" y="501" width="1" height="45" fill="#c0c0c0"/>
<rect x="273" y="501" width="1" height="46" fill="#c0c0c0"/>
<rect x="281" y="501" width="1" height="47" fill="#c0c0c0"/>
<rect x="289" y="501" width="1" height="45" fill="#c0c0c0"/>
<rect x="297" y="501" width="1" height="43" fill="#c0c0c0"/>
<rect x="305" y="501" width="1" height="41" fill="#c0c0c0"/>
<rect x="313" y="501" width="1" height="41" fill="#c0c0c0"/>
<rect x="321" y="501" width="1" height="41" fill="#c0c0c0"/>
<rect x="329" y="501" width="1" height="41" fill="#c0c0c0"/>
<rect x="337" y="501" width="1" height="39" fill="#c0c0c0"/>
<rect x="345" y="501" width="1" height="36" fill="#c0c0c0"/>
<rect x="353" y="501" width="1" height="30" fill="#c0c0c0"/>
<rect x="361" y="501" width="1" height="23" fill="#c0c0c0"/>
<rect x="369" y="501" width="1" height="17" fill="#c0c0c0"/>
<rect x="377" y="501" width="1" height="13" fill="#c0c0c0"/>
<rect x="385" y="501" width="1" height="6" fill="#c0c0c0"/>
<rect x="393" y="501" width="1" height="3" fill="#c0c0c0"/>
<rect x="409" y="501" width="1" height="1" fill="#c0c0c0"/>
<rect x="417" y="499" width="1" height="3" fill="#c0c0c0"/>
<rect x="425" y="495" width="1" height="7" fill="#c0c0c0"/>
<rect x="433" y="491" width="1" height="11" fill="#c0c0c0"/>
<rect x="441" y="488" width="1" height="14" fill="#c0c0c0"/>
<rect x="449" y="483" width="1" height="19" fill="#c0c0c0"/>
<rect x="457" y="478" width="1" height="24" fill="#c0c0c0"/>
<rect x="465" y="475" width="1" height="27" fill="#c0c0c0"/>
<rect x="473" y="471" width="1" height="31" fill="#c0c0c0"/>
<rect x="481" y="469" width="1" height="33" fill="#c0c0c0"/>
<rect x="489" y="469" width="1" height="33" fill="#c0c0c0"/>
<rect x="497" y="471" width="1" height="31" fill="#c0c0c0"/>
<rect x="505" y="472" width="1" height="30" fill="#c0c0c0"/>
<rect x="513" y="473" width="1" height="29" fill="#c0c0c0"/>
<rect x="521" y="473" width="1" height="29" fill="#c0c0c0"/>
<rect x="529" y="473" width="1" height="29" fill="#c0c0c0"/>
<rect x="537" y="472" width="1" height="30" fill="#c0c0c0"/>
<rect x="545" y="470" width="1" height="32" fill="#c0c0c0"/>
<rect x="553" y="467" width="1" height="35" fill="#c0c0c0"/>
<rect x="561" y="466" width="1" height="36" fill="#c0c0c0"/>
<rect x="569" y="466" width="1" height="36" fill="#c0c0c0"/>
<rect x="577" y="466" width="1" height="36" fill="#c0c0c0"/>
<rect x="585" y="466" width="1" height="36" fill="#c0c0c0"/>
<rect x="593" y="469" width="1" height="33" fill="#c0c0c0"/>
<rect x="601" y="473" width="1" height="29" fill="#c0c0c0"/>
<rect x="609" y="476" width="1" height="26" fill="#c0c0c0"/>
<rect x="617" y="477" width="1" height="25" fill="#c0c0c0"/>
<rect x="625" y="480" width="1" height="22" fill="#c0c0c0"/>
<rect x="633" y="484" width="1" height="18" fill="#c0c0c0"/>
<rect x="641" y="484" width="1" height="18" fill="#c0c0c0"/>
<rect x="649" y="484" width="1" height="18" fill="#c0c0c0"/>
<rect x="657" y="485" width="1" height="17" fill="#c0c0c0"/>
<rect x="665" y="488" width="1" height="14" fill="#c0c0c0"/>
<rect x="673" y="491" width="1" height="11" fill="#c0c0c0"/>
<rect x="681" y="495" width="1" height="7" fill="#c0c0c0"/>
<rect x="689" y="498" width="1" height="4" fill="#c0c0c0"/>
<rect x="697" y="501" width="1" height="1" fill="#c0c0c0"/>
<rect x="705" y="501" width="1" height="7" fill="#c0c0c0"/>
<rect x="713" y="501" width="1" height="11" fill="#c0c0c0"/>
<rect x="721" y="501" width="1" height="16" fill="#c0c0c0"/>
<rect x="729" y="501" width="1" height="20" fill="#c0c0c0"/>
<rect x="737" y="501" width="1" height="23" fill="#c0c0c0"/>
<rect x="745" y="501" width="1" height="23" fill="#c0c0c0"/>
<rect x="753" y="501" width="1" height="23" fill="#c0c0c0"/>
<rect x="761" y="501" width="1" height="23" fill="#c0c0c0"/>
<rect x="769" y="501" width="1" height="21" fill="#c0c0c0"/>
<rect x="777" y="501" width="1" height="19" fill="#c0c0c0"/>
<rect x="785" y="501" width="1" height="18" fill="#c0c0c0"/>
<rect x="793" y="501" width="1" height="16" fill="#c0c0c0"/>
<rect x="801" y="501" width="1" height="19" fill="#c0c0c0"/>
<rect x="809" y="501" width="1" height="20" fill="#c0c0c0"/>
<rect x="817" y="501" width="1" height="21" fill="#c0c0c0"/>
<rect x="825" y="501" width="1" height="21" fill="#c0c0c0"/>
<rect x="833" y="501" width="1" height="22" fill="#c0c0c0"/>
<rect x="841" y="501" width="1" height="22" fill="#c0c0c0"/>
<rect x="849" y="501" width="1" height="23" fill="#c0c0c0"/>
<rect x="857" y="501" width="1" height="25" fill="#c0c0c0"/>
<rect x="865" y="501" width="1" height="26" fill="#c0c0c0"/>
<rect x="873" y="501" width="1" height="26" fill="#c0c0c0"/>
<rect x="881" y="501" width="1" height="25" fill="#c0c0c0"/>
<rect x="889" y="501" width="1" height="24" fill="#c0c0c0"/>
<rect x="897" y="501" width="1" height="23" fill="#c0c0c0"/>
<rect x="905" y="501" width="1" height="21" fill="#c0c0c0"/>
<rect x="913" y="501" width="1" height="19" fill="#c0c0c0"/>
<rect x="921" y="501" width="1" height="17" fill="#c0c0c0"/>
<rect x="929" y="501" width="1" height="13" fill="#c0c0c0"/>
<rect x="937" y="501" width="1" height="10" fill="#c0c0c0"/>
<rect x="945" y="501" width="1" height="7" fill="#c0c0c0"/>
<rect x="953" y="501" width="1" height="5" fill="#c0c0c0"/>
<rect x="961" y="501" width="1" height="4" fill="#c0c0c0"/>
<rect x="969" y="501" width="1" height="3" fill="#c0c0c0"/>
<rect x="977" y="501" width="1" height="5" fill="#c0c0c0"/>
<rect x="985" y="501" width="1" height="5" fill="#c0c0c0"/>
<rect x="993" y="501" width="1" height="5" fill="#c0c0c0"/>
<rect x="1001" y="501" width="1" height="3" fill="#c0c0c0"/>
<rect x="1009" y="501" width="1" height="3" fill="#c0c0c0"/>
<rect x="1017" y="501" width="1" height="4" fill="#c0c0c0"/>
<rect x="1025" y="501" width="1" height="9" fill="#c0c0c0"/>
<rect x="1033" y="501" width="1" height="10" fill="#c0c0c0"/>
<rect x="1041" y="501" width="1" height="13" fill="#c0c0c0"/>
<rect x="1049" y="501" width="1" height="15" fill="#c0c0c0"/>
<rect x="1057" y="501" width="1" height="15" fill="#c0c0c0"/>
<rect x="1065" y="501" width="1" height="18" fill="#c0c0c0"/>
<rect x="1073" y="501" width="1" height="18" fill="#c0c0c0"/>
<rect x="1081" y="501" width="1" height="16" fill="#c0c0c0"/>
<rect x="1089" y="501" width="1" height="19" fill="#c0c0c0"/>
<rect x="1097" y="501" width="1" height="17" fill="#c0c0c0"/>
<rect x="1105" y="501" width="1" height="17" fill="#c0c0c0"/>
<rect x="1113" y="501" width="1" height="17" fill="#c0c0c0"/>
<rect x="1121" y="501" width="1" height="16" fill="#c0c0c0"/>
<rect x="1129" y="501" width="1" height="14" fill="#c0c0c0"/>
<rect x="1137" y="501" width="1" height="15" fill="#c0c0c0"/>
<rect x="1145" y="501" width="1" height="14" fill="#c0c0c0"/>
<rect x="1153" y="501" width="1" height="16" fill="#c0c0c0"/>
<rect x="1161" y="501" width="1" height="16" fill="#c0c0c0"/>
<rect x="1169" y="501" width="1" height="16" fill="#c0c0c0"/>
<rect x="1177" y="501" width="1" height="17" fill="#c0c0c0"/>
</g>
<path class="c" d="M487 479.5h3M663 479.5h2M137 507.5h2M424 507.5h2M737 507.5h3M999 507.5h5M1031 507.5h5M689 487.5h3M863 523.5h5M927 523.5h4M391 525.5h3M879 525.5h5M887 525.5h5M895 525.5h5M903 525.5h5M911 525.5h5M969 513.5h3M1072 513.5h4M448 496.5h2M759 517.5h2M952 517.5h4M1095 517.5h5M1154 517.5h2M1159 517.5h5M1167 517.5h5M1175 517.5h3M472 485.5h3M143 510.5h2M418 510.5h2M744 510.5h2M983 510.5h4M1055 510.5h5M400 521.5h2M775 521.5h5M807 521.5h5M815 521.5h5M823 521.5h5M831 521.5h5M839 521.5h5M847 521.5h5M935 521.5h4M655 477.5h2M168 522.5h3M783 522.5h5M791 522.5h5M799 522.5h5M855 522.5h5M160 518.5h2M761 518.5h3M1103 518.5h5M1111 518.5h5M1119 518.5h5M1127 518.5h5M1135 518.5h5M1143 518.5h5M1151 518.5h3M247 531.5h2M378 531.5h2M239 530.5h5M426 506.5h2M735 506.5h2M1007 506.5h5M1015 506.5h5M1023 506.5h5M151 514.5h2M967 514.5h2M264 536.5h4M665 480.5h3M103 475.5h2M647 475.5h2M193 527.5h3M199 527.5h5M207 527.5h5M215 527.5h2M296 543.5h4M303 543.5h2M343 543.5h3M319 545.5h5M231 529.5h5M383 529.5h2M279 539.5h2M456 492.5h3M705 492.5h3M768 520.5h4M9 446.5h3M15 446.5h5M23 446.5h5M31 446.5h5M39 446.5h5M47 446.5h4M305 544.5h3M311 544.5h5M327 544.5h5M335 544.5h4M367 535.5h3M1047 509.5h5M503 474.5h5M641 474.5h3M162 519.5h2M943 519.5h5M97 470.5h2M527 470.5h5M535 470.5h5M543 470.5h5M551 470.5h3M623 470.5h5M145 511.5h2M416 511.5h2M746 511.5h2M976 511.5h4M1063 511.5h5M111 482.5h2M479 482.5h3M673 482.5h3M570 468.5h2M575 468.5h5M583 468.5h3M607 468.5h5M490 478.5h2M657 478.5h3M514 472.5h2M633 472.5h3M586 467.5h2M591 467.5h5M599 467.5h5M184 526.5h4M191 526.5h2M464 489.5h2M697 489.5h3M287 541.5h2M351 541.5h2M554 469.5h2M559 469.5h5M567 469.5h3M615 469.5h5M519 471.5h5M631 471.5h2M249 532.5h3M375 532.5h3M440 499.5h3M721 499.5h2M217 528.5h3M223 528.5h5M385 528.5h2M496 476.5h3M649 476.5h3M681 484.5h3M703 491.5h2M87 462.5h2M272 538.5h4M359 538.5h3M153 515.5h3M409 515.5h2M753 515.5h3M960 515.5h4M1080 515.5h4M80 457.5h2M432 503.5h2M729 503.5h2M72 454.5h3M482 481.5h2M671 481.5h2M991 508.5h5M1039 508.5h5M289 542.5h3M346 542.5h2M256 534.5h4M370 534.5h2M687 486.5h2M281 540.5h3M353 540.5h3M175 524.5h5M394 524.5h2M871 524.5h5M919 524.5h5M450 495.5h2M712 495.5h3M719 498.5h2M679 483.5h2M511 473.5h3M639 473.5h2M466 488.5h2M695 488.5h2M362 537.5h2M56 449.5h3M63 451.5h4M434 502.5h2M727 502.5h2M1087 516.5h4M171.5 523v1M183.5 525v1M751.5 513v1M127.5 496v1M715.5 496v1M147.5 512v1M415.5 512v1M975.5 512v1M1071.5 512v1M159.5 517v1M407.5 517v1M1091.5 517v1M115.5 485v1M167.5 521v1M106.5 477v1M495.5 477v1M399.5 522v1M931.5 522v1M951.5 518v1M59.5 450v1M89.5 463v1M411.5 514v1M752.5 514v1M1079.5 514v1M499.5 475v1M387.5 527v1M339.5 543v1M122.5 492v1M402.5 520v1M939.5 520v1M263.5 535v1M743.5 509v1M987.5 509v1M403.5 519v1M767.5 519v1M95.5 468v1M107.5 478v1M119.5 489v1M96.5 469v1M99.5 471v1M130.5 499v1M105.5 476v1M114.5 484v1M475.5 484v1M121.5 491v1M459.5 491v1M139.5 508v1M423.5 508v1M295.5 542v1M471.5 486v1M128.5 497v1M447.5 497v1M129.5 498v1M443.5 498v1M113.5 483v1M135.5 504v1M431.5 504v1M731.5 504v1M136.5 505v1M123.5 493v1M455.5 493v1M271.5 537v1M90.5 464v1M91.5 465v1M131.5 500v1M439.5 500v1M723.5 500v1M67.5 452v1M408.5 516v1M959.5 516v1M711.5 494v1M51.5 447v1M120.5 490v1M463.5 490v1M82.5 458v1M83.5 459v1M75.5 455v1M71.5 453v1M255.5 533v1M79.5 456v1M55.5 448v1" fill="none" stroke="#ff0000" stroke-width="1"/>
</g>
<g clip-path="url(#cr)">
<g class="c">
<line x1="10" y1="592.5" x2="1201" y2="592.5" stroke="#c0c0c0" stroke-width="1" stroke-dasharray="3 3"/>
<line x1="10" y1="639.5" x2="1201" y2="639.5" stroke="#c0c0c0" stroke-width="1" stroke-dasharray="3 3"/>
</g>
<path class="c" d="M320 637.5h5M721 637.5h4M95 624.5h11M165 624.5h3M179 624.5h2M764 624.5h6M910 624.5h4M981 624.5h2M1097 624.5h3M1134 624.5h2M1143 624.5h3M91 625.5h4M106 625.5h2M145 625.5h2M162 625.5h3M181 625.5h3M344 625.5h2M681 625.5h10M760 625.5h4M906 625.5h4M1095 625.5h2M1100 625.5h4M1107 625.5h7M1139 625.5h4M467 590.5h4M476 590.5h4M543 590.5h2M551 590.5h14M574 590.5h7M676 621.5h2M773 621.5h2M784 621.5h10M917 621.5h2M986 621.5h2M1130 621.5h2M126 633.5h6M224 633.5h11M714 633.5h2M856 633.5h7M866 633.5h2M120 632.5h6M132 632.5h6M801 632.5h2M815 632.5h2M852 632.5h4M1035 632.5h2M1047 632.5h2M393 608.5h4M599 608.5h2M610 608.5h2M39 595.5h4M446 595.5h2M534 595.5h2M670 617.5h2M994 617.5h2M82 629.5h2M197 629.5h4M294 629.5h2M336 629.5h2M695 629.5h2M739 629.5h4M751 629.5h3M808 629.5h3M830 629.5h2M839 629.5h5M872 629.5h19M1019 629.5h2M1040 629.5h3M1087 629.5h2M1158 629.5h2M73 630.5h9M113 630.5h3M201 630.5h7M737 630.5h2M805 630.5h3M811 630.5h2M835 630.5h4M844 630.5h4M1043 630.5h2M1156 630.5h2M780 620.5h4M919 620.5h2M988 620.5h2M1127 620.5h3M379 607.5h2M597 607.5h2M654 607.5h4M448 594.5h2M536 594.5h2M84 628.5h2M110 628.5h2M193 628.5h4M298 628.5h2M338 628.5h2M743 628.5h8M754 628.5h2M891 628.5h7M1085 628.5h2M1091 628.5h2M1160 628.5h3M116 631.5h4M208 631.5h3M803 631.5h2M813 631.5h2M833 631.5h2M848 631.5h4M869 631.5h2M1037 631.5h2M1045 631.5h2M1154 631.5h2M213 634.5h2M222 634.5h2M305 634.5h10M716 634.5h2M863 634.5h3M1025 634.5h9M1065 634.5h2M625 613.5h3M929 613.5h9M632 615.5h2M665 615.5h2M926 615.5h2M998 615.5h2M1007 615.5h3M86 627.5h2M142 627.5h2M150 627.5h3M154 627.5h4M188 627.5h5M340 627.5h2M692 627.5h2M756 627.5h2M898 627.5h4M1055 627.5h2M1073 627.5h3M1083 627.5h2M1163 627.5h7M367 610.5h5M401 610.5h7M412 610.5h6M942 610.5h2M948 610.5h4M25 597.5h10M45 597.5h2M442 597.5h2M530 597.5h2M672 618.5h2M922 618.5h2M992 618.5h2M168 623.5h11M770 623.5h2M220 635.5h2M315 635.5h2M709 635.5h2M718 635.5h2M915 622.5h2M984 622.5h2M1116 622.5h2M88 626.5h3M147 626.5h3M158 626.5h4M184 626.5h4M342 626.5h2M758 626.5h2M826 626.5h2M902 626.5h4M978 626.5h2M1076 626.5h7M1104 626.5h3M1137 626.5h2M1170 626.5h8M246 641.5h3M264 641.5h7M47 598.5h2M435 598.5h7M521 598.5h9M456 591.5h11M480 591.5h2M541 591.5h2M565 591.5h4M570 591.5h4M581 591.5h4M494 601.5h2M501 601.5h6M510 603.5h2M514 603.5h2M426 600.5h4M491 600.5h3M518 600.5h2M218 636.5h2M237 636.5h2M317 636.5h3M325 636.5h5M35 596.5h4M43 596.5h2M444 596.5h2M532 596.5h2M241 639.5h3M728 639.5h2M408 611.5h4M940 611.5h2M952 611.5h10M61 616.5h2M667 616.5h3M996 616.5h2M430 599.5h5M489 599.5h2M390 606.5h2M595 606.5h2M613 606.5h2M641 606.5h13M361 609.5h6M372 609.5h6M397 609.5h4M601 609.5h9M944 609.5h4M628 614.5h4M1000 614.5h7M249 642.5h3M261 642.5h3M271 642.5h8M776 619.5h4M990 619.5h2M1120 619.5h7M252 643.5h4M258 643.5h3M279 643.5h3M725 638.5h3M938 612.5h2M962 612.5h2M471 589.5h5M545 589.5h6M383 604.5h2M386 604.5h2M512 604.5h2M453 592.5h3M496 602.5h5M507 602.5h3M388 605.5h2M593 605.5h2M615 605.5h2M450 593.5h3M538 593.5h2M244 640.5h2M256 644.5h2M217.5 637v1M239.5 637v1M286.5 637v1M703.5 636v2M707.5 637v1M731.5 637v1M69.5 624v2M346.5 624v1M680.5 624v1M795.5 623v2M975.5 624v2M1015.5 624v1M1114.5 624v1M796.5 625v1M825.5 625v1M980.5 625v1M1016.5 625v2M1136.5 625v1M1146.5 625v1M16.5 590v1M18.5 590v1M66.5 620v2M349.5 621v1M972.5 621v1M1013.5 621v1M1118.5 621v1M212.5 633v1M290.5 633v1M304.5 633v1M332.5 633v1M700.5 633v1M712.5 633v1M734.5 633v1M817.5 633v1M1024.5 633v1M1034.5 633v1M1049.5 633v1M1064.5 633v1M1067.5 633v1M211.5 632v1M291.5 632v1M303.5 632v1M333.5 632v1M699.5 632v1M713.5 632v1M735.5 632v1M818.5 632v1M868.5 632v1M1023.5 632v1M1050.5 632v1M1063.5 632v1M1068.5 632v1M1153.5 632v1M55.5 608v2M378.5 608v1M419.5 607v2M621.5 608v1M639.5 608v1M658.5 608v1M11.5 595v1M23.5 595v1M485.5 595v1M587.5 594v2M63.5 617v1M353.5 617v1M924.5 617v1M968.5 617v1M1010.5 616v2M72.5 628v2M112.5 629v1M140.5 629v1M300.5 629v1M799.5 629v1M821.5 629v1M1053.5 629v1M1060.5 629v1M1071.5 629v1M1090.5 629v1M1150.5 629v1M139.5 630v1M293.5 630v1M301.5 630v1M335.5 630v1M697.5 630v1M800.5 630v2M820.5 630v1M832.5 630v1M871.5 630v1M1021.5 630v1M1039.5 630v1M1052.5 630v1M1061.5 630v1M1070.5 630v1M1089.5 630v1M1151.5 630v1M350.5 620v1M675.5 620v1M775.5 620v1M971.5 620v1M1012.5 619v2M1119.5 620v1M54.5 607v1M392.5 607v1M612.5 607v1M620.5 607v1M640.5 607v1M12.5 594v1M22.5 594v1M484.5 594v1M141.5 628v1M153.5 628v1M296.5 628v1M694.5 628v1M798.5 628v1M822.5 628v1M829.5 628v1M1018.5 628v1M1054.5 628v1M1059.5 628v1M1072.5 628v1M1149.5 628v1M138.5 631v1M292.5 631v1M302.5 631v1M334.5 631v1M698.5 631v1M736.5 631v1M819.5 631v1M1022.5 631v1M1051.5 631v1M1062.5 631v1M1069.5 631v1M1152.5 631v1M235.5 634v1M289.5 634v1M331.5 634v1M701.5 634v1M711.5 634v1M733.5 634v1M58.5 613v1M357.5 613v1M635.5 612v2M663.5 613v1M964.5 613v1M60.5 615v1M355.5 615v1M966.5 615v1M71.5 627v1M109.5 627v1M297.5 627v1M797.5 626v2M823.5 627v1M828.5 627v1M977.5 627v1M1017.5 627v1M1058.5 627v1M1093.5 627v1M1148.5 627v1M56.5 610v2M360.5 610v1M622.5 609v2M637.5 610v1M660.5 610v1M9.5 597v1M487.5 597v1M588.5 596v2M64.5 618v1M352.5 618v1M969.5 618v1M1011.5 618v1M68.5 623v1M347.5 623v1M679.5 623v1M914.5 623v1M974.5 623v1M983.5 623v1M1014.5 622v2M1115.5 623v1M1133.5 623v1M215.5 635v1M236.5 635v1M288.5 635v1M330.5 635v1M702.5 635v1M732.5 635v2M1065.5 635v1M67.5 622v1M348.5 622v1M678.5 622v1M772.5 622v1M794.5 622v1M973.5 622v1M1132.5 622v1M70.5 626v1M108.5 626v1M144.5 626v1M691.5 626v1M824.5 626v1M976.5 626v1M1057.5 626v1M1094.5 626v1M1147.5 626v1M283.5 640v2M488.5 598v1M589.5 598v1M15.5 591v1M19.5 591v1M50.5 600v2M425.5 601v1M517.5 601v1M591.5 601v2M52.5 603v2M385.5 603v1M423.5 603v1M592.5 603v1M590.5 599v2M216.5 636v1M287.5 636v1M708.5 636v1M720.5 636v1M10.5 596v1M24.5 596v1M486.5 596v1M284.5 639v1M705.5 639v1M359.5 611v1M623.5 611v1M636.5 611v1M661.5 611v1M354.5 616v1M925.5 616v1M967.5 616v1M49.5 599v1M520.5 599v1M53.5 605v2M381.5 606v1M420.5 606v1M619.5 606v1M418.5 609v1M638.5 609v1M659.5 609v1M59.5 614v1M356.5 614v1M634.5 614v1M664.5 614v1M928.5 614v1M965.5 614v1M282.5 642v1M65.5 619v1M351.5 619v1M674.5 619v1M921.5 619v1M970.5 619v1M240.5 638v1M285.5 638v1M704.5 638v1M706.5 638v1M730.5 638v1M57.5 612v1M358.5 612v1M624.5 612v1M662.5 612v1M17.5 589v1M422.5 604v1M593.5 604v1M617.5 604v1M14.5 592v1M20.5 592v1M482.5 592v1M540.5 592v1M569.5 592v1M585.5 592v1M51.5 602v1M424.5 602v1M516.5 602v1M382.5 605v1M421.5 605v1M618.5 605v1M13.5 593v1M21.5 593v1M483.5 593v1M586.5 593v1" fill="none" stroke="#1e90ff" stroke-width="1"/>
</g>
<g class="c" fill="#000">
<rect x="8" y="8" width="1194" height="1"/>
<rect x="8" y="437" width="1194" height="1"/>
<rect x="8" y="8" width="1" height="430"/>
<rect x="8" y="439" width="1194" height="1"/>
<rect x="8" y="554" width="1194" height="1"/>
<rect x="8" y="439" width="1" height="116"/>
<rect x="8" y="556" width="1194" height="1"/>
<rect x="8" y="674" width="1194" height="1"/>
<rect x="8" y="556" width="1" height="119"/>
<rect x="1201" y="8" width="1" height="667"/>
</g><g class="c">
<rect x="8" y="172" width="1" height="2" fill="#ff0000"/>
<rect x="8" y="249" width="1" height="2" fill="#ff0000"/>
<rect x="8" y="315" width="1" height="2" fill="#ff0000"/>
<rect x="8" y="375" width="1" height="2" fill="#ff0000"/>
<rect x="8" y="435" width="1" height="2" fill="#00d000"/>
</g><g class="c" fill="#000">
<rect x="9" y="675" width="1" height="3"/>
<rect x="73" y="675" width="1" height="3"/>
<rect x="137" y="675" width="1" height="3"/>
<rect x="201" y="675" width="1" height="3"/>
<rect x="265" y="675" width="1" height="3"/>
<rect x="329" y="675" width="1" height="3"/>
<rect x="393" y="675" width="1" height="3"/>
<rect x="457" y="675" width="1" height="3"/>
<rect x="521" y="675" width="1" height="3"/>
<rect x="585" y="675" width="1" height="3"/>
<rect x="649" y="675" width="1" height="3"/>
<rect x="713" y="675" width="1" height="3"/>
<rect x="777" y="675" width="1" height="3"/>
<rect x="841" y="675" width="1" height="3"/>
<rect x="905" y="675" width="1" height="3"/>
<rect x="969" y="675" width="1" height="3"/>
<rect x="1033" y="675" width="1" height="3"/>
<rect x="1097" y="675" width="1" height="3"/>
<rect x="1161" y="675" width="1" height="3"/>
<polygon points="12,15 19,15 15.5,19"/>
</g>
<text x="23.3" y="20" textLength="43.6" lengthAdjust="spacingAndGlyphs">UKOil-,H4</text>
<text x="72.8" y="20" textLength="27.8" lengthAdjust="spacingAndGlyphs">98.973</text>
<text x="103.8" y="20" textLength="27.8" lengthAdjust="spacingAndGlyphs">99.219</text>
<text x="134.7" y="20" textLength="27.8" lengthAdjust="spacingAndGlyphs">98.837</text>
<text x="165.6" y="20" textLength="27.8" lengthAdjust="spacingAndGlyphs">99.218</text>
<text x="12.4" y="569" textLength="68.0" lengthAdjust="spacingAndGlyphs">RSI(14) 41.0055</text>
<g class="c" fill="#000">
<rect x="1202" y="38" width="2" height="1"/>
<rect x="1202" y="71" width="2" height="1"/>
<rect x="1202" y="104" width="2" height="1"/>
<rect x="1202" y="137" width="2" height="1"/>
<rect x="1202" y="203" width="2" height="1"/>
<rect x="1202" y="236" width="2" height="1"/>
<rect x="1202" y="269" width="2" height="1"/>
<rect x="1202" y="302" width="2" height="1"/>
<rect x="1202" y="335" width="2" height="1"/>
<rect x="1202" y="368" width="2" height="1"/>
</g>
<text x="1207.6" y="42" textLength="32.0" lengthAdjust="spacingAndGlyphs">132.250</text>
<text x="1207.6" y="75" textLength="32.0" lengthAdjust="spacingAndGlyphs">129.280</text>
<text x="1207.6" y="108" textLength="32.0" lengthAdjust="spacingAndGlyphs">126.310</text>
<text x="1207.6" y="141" textLength="32.0" lengthAdjust="spacingAndGlyphs">123.250</text>
<text x="1207.6" y="207" textLength="32.0" lengthAdjust="spacingAndGlyphs">117.220</text>
<text x="1207.6" y="240" textLength="32.0" lengthAdjust="spacingAndGlyphs">114.250</text>
<text x="1207.6" y="273" textLength="32.0" lengthAdjust="spacingAndGlyphs">111.280</text>
<text x="1207.6" y="306" textLength="32.0" lengthAdjust="spacingAndGlyphs">108.220</text>
<text x="1207.6" y="339" textLength="32.0" lengthAdjust="spacingAndGlyphs">105.250</text>
<text x="1207.6" y="372" textLength="32.0" lengthAdjust="spacingAndGlyphs">102.190</text>
<g class="c">
<rect x="1204" y="167" width="38" height="11" fill="#ff0000"/>
<rect x="1204" y="244" width="38" height="11" fill="#ff0000"/>
<rect x="1204" y="310" width="38" height="11" fill="#ff0000"/>
<rect x="1204" y="370" width="38" height="11" fill="#ff0000"/>
<rect x="1204" y="396" width="34" height="11" fill="#000000"/>
<rect x="1204" y="430" width="34" height="11" fill="#00d000"/>
<rect x="1202" y="170" width="2" height="1" fill="#000"/>
<rect x="1202" y="247" width="2" height="1" fill="#000"/>
<rect x="1202" y="313" width="2" height="1" fill="#000"/>
<rect x="1202" y="373" width="2" height="1" fill="#000"/>
<rect x="1202" y="433" width="2" height="1" fill="#000"/>
</g>
<text x="1207.6" y="176" textLength="32.0" lengthAdjust="spacingAndGlyphs" style="fill:#fff;stroke:#fff">120.000</text>
<text x="1207.6" y="253" textLength="32.0" lengthAdjust="spacingAndGlyphs" style="fill:#fff;stroke:#fff">113.000</text>
<text x="1207.6" y="319" textLength="32.0" lengthAdjust="spacingAndGlyphs" style="fill:#fff;stroke:#fff">107.000</text>
<text x="1207.6" y="379" textLength="32.0" lengthAdjust="spacingAndGlyphs" style="fill:#fff;stroke:#fff">101.500</text>
<text x="1207.2" y="405" textLength="27.3" lengthAdjust="spacingAndGlyphs" style="fill:#fff;stroke:#fff">99.218</text>
<text x="1207.2" y="439" textLength="27.3" lengthAdjust="spacingAndGlyphs" style="fill:#fff;stroke:#fff">96.000</text>
<g class="c" fill="#000"><rect x="1202" y="440" width="1" height="1"/><rect x="1202" y="501" width="1" height="1"/><rect x="1202" y="553" width="1" height="1"/><rect x="1202" y="557" width="1" height="1"/><rect x="1202" y="673" width="1" height="1"/><rect x="1202" y="401" width="2" height="1"/></g>
<text x="1204.5" y="450" textLength="27.6" lengthAdjust="spacingAndGlyphs">5.6539</text>
<text x="1204.5" y="505" textLength="17.5" lengthAdjust="spacingAndGlyphs">0.00</text>
<text x="1204.7" y="551" textLength="30.4" lengthAdjust="spacingAndGlyphs">-4.9548</text>
<text x="1204.4" y="567" textLength="14.8" lengthAdjust="spacingAndGlyphs">100</text>
<text x="1203.6" y="596" textLength="9.6" lengthAdjust="spacingAndGlyphs">70</text>
<text x="1203.6" y="643" textLength="9.6" lengthAdjust="spacingAndGlyphs">30</text>
<text x="1204.3" y="671" textLength="4.6" lengthAdjust="spacingAndGlyphs">0</text>
<text x="7.7" y="687" textLength="47.3" lengthAdjust="spacingAndGlyphs">8 Mar 2022</text>
<text x="71.7" y="687" textLength="49.9" lengthAdjust="spacingAndGlyphs">9 Mar 17:00</text>
<text x="135.7" y="687" textLength="54.4" lengthAdjust="spacingAndGlyphs">11 Mar 01:00</text>
<text x="199.7" y="687" textLength="55.1" lengthAdjust="spacingAndGlyphs">14 Mar 04:00</text>
<text x="263.7" y="687" textLength="55.1" lengthAdjust="spacingAndGlyphs">15 Mar 12:00</text>
<text x="327.7" y="687" textLength="55.1" lengthAdjust="spacingAndGlyphs">16 Mar 20:00</text>
<text x="391.7" y="687" textLength="55.1" lengthAdjust="spacingAndGlyphs">18 Mar 04:00</text>
<text x="455.7" y="687" textLength="55.1" lengthAdjust="spacingAndGlyphs">21 Mar 16:00</text>
<text x="519.7" y="687" textLength="55.1" lengthAdjust="spacingAndGlyphs">23 Mar 00:00</text>
<text x="583.7" y="687" textLength="55.1" lengthAdjust="spacingAndGlyphs">24 Mar 08:00</text>
<text x="647.7" y="687" textLength="55.1" lengthAdjust="spacingAndGlyphs">25 Mar 16:00</text>
<text x="711.7" y="687" textLength="55.1" lengthAdjust="spacingAndGlyphs">29 Mar 04:00</text>
<text x="775.7" y="687" textLength="55.1" lengthAdjust="spacingAndGlyphs">30 Mar 12:00</text>
<text x="839.7" y="687" textLength="55.1" lengthAdjust="spacingAndGlyphs">31 Mar 20:00</text>
<text x="903.7" y="687" textLength="47.8" lengthAdjust="spacingAndGlyphs">4 Apr 04:00</text>
<text x="967.7" y="687" textLength="47.8" lengthAdjust="spacingAndGlyphs">5 Apr 12:00</text>
<text x="1031.7" y="687" textLength="47.8" lengthAdjust="spacingAndGlyphs">6 Apr 20:00</text>
<text x="1095.7" y="687" textLength="47.8" lengthAdjust="spacingAndGlyphs">8 Apr 04:00</text>
<text x="1159.7" y="687" textLength="52.3" lengthAdjust="spacingAndGlyphs">11 Apr 12:00</text>
</svg></body></html>
